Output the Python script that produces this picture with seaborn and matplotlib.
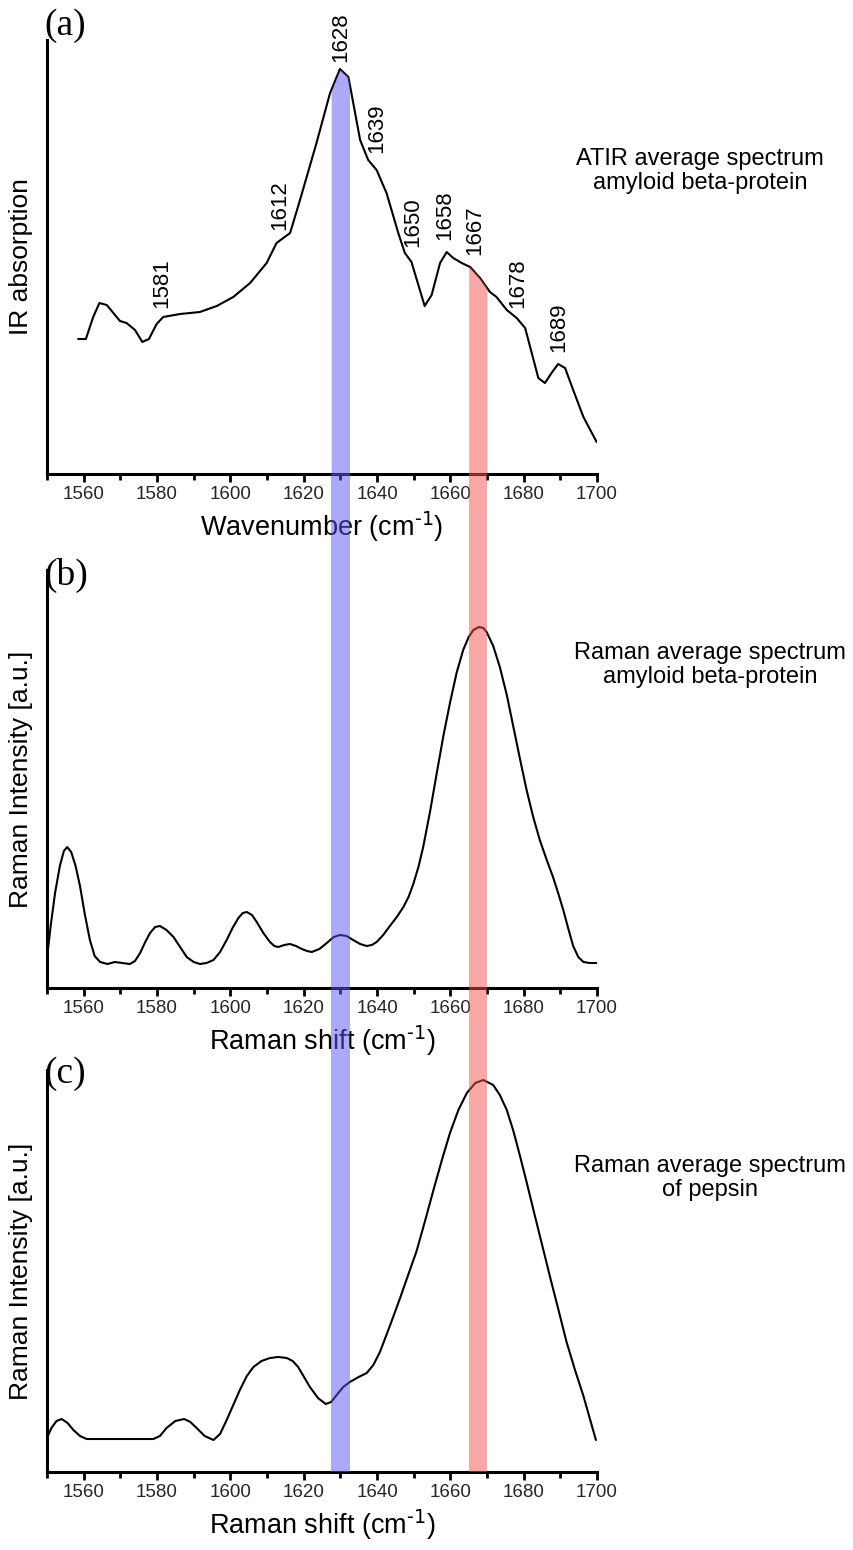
import numpy as np
import matplotlib
matplotlib.use("Agg")
import matplotlib.pyplot as plt
from matplotlib.ticker import MultipleLocator
import seaborn as sns

# ---------------- data ----------------
# (a) ATR-IR average spectrum of amyloid beta-protein
ir_wavenumber = [1558.5, 1560.6, 1562.6, 1564.3, 1566.3, 1569.9, 1571.7, 1574.0, 1576.0,
                 1577.8, 1579.9, 1581.7, 1586.3, 1591.7, 1596.3, 1600.8, 1605.4, 1609.9,
                 1612.6, 1616.3, 1619.0, 1623.5, 1627.2, 1629.9, 1632.2, 1635.4, 1637.6,
                 1639.9, 1642.6, 1645.8, 1647.6, 1649.4, 1653.0, 1654.9, 1657.2, 1659.0,
                 1660.8, 1663.1, 1665.4, 1668.1, 1670.8, 1672.6, 1675.4, 1678.1, 1680.4,
                 1682.2, 1684.0, 1685.8, 1687.6, 1689.4, 1691.3, 1693.5, 1696.3, 1699.9]
ir_absorption = [1.35, 1.35, 1.57, 1.71, 1.69, 1.53, 1.51, 1.44, 1.32,
                 1.35, 1.50, 1.57, 1.60, 1.62, 1.68, 1.77, 1.91, 2.11,
                 2.31, 2.41, 2.74, 3.31, 3.81, 4.05, 3.97, 3.34, 3.14,
                 3.04, 2.81, 2.41, 2.21, 2.12, 1.68, 1.79, 2.11, 2.22,
                 2.16, 2.11, 2.07, 1.96, 1.82, 1.77, 1.64, 1.56, 1.46,
                 1.21, 0.96, 0.91, 1.01, 1.10, 1.06, 0.84, 0.57, 0.32]
ir_peaks = [1581, 1612, 1628, 1639, 1650, 1658, 1667, 1678, 1689]

# (b) Raman average spectrum of amyloid beta-protein
raman_ab_shift = [1550.0, 1551.0, 1552.2, 1553.5, 1554.6, 1555.5, 1556.6, 1557.8, 1559.0,
                  1560.3, 1561.7, 1563.0, 1564.5, 1566.5, 1568.5, 1570.5, 1572.6, 1574.0,
                  1575.4, 1576.8, 1578.1, 1579.5, 1580.8, 1582.6, 1584.5, 1586.3, 1588.1,
                  1590.0, 1591.7, 1593.5, 1595.4, 1597.2, 1599.0, 1600.6, 1602.2, 1603.4,
                  1604.5, 1605.9, 1607.2, 1609.0, 1610.8, 1612.0, 1613.1, 1614.7, 1616.3,
                  1617.9, 1619.5, 1620.9, 1622.2, 1624.3, 1626.3, 1628.2, 1629.9, 1631.7,
                  1633.5, 1635.4, 1637.2, 1638.6, 1639.9, 1641.7, 1643.5, 1645.4, 1647.2,
                  1648.6, 1649.9, 1651.3, 1652.6, 1654.5, 1656.3, 1658.1, 1659.9, 1661.7,
                  1663.5, 1665.0, 1666.3, 1667.8, 1669.0, 1669.9, 1671.7, 1673.5, 1675.4,
                  1677.2, 1679.0, 1680.8, 1682.6, 1684.4, 1686.2, 1688.0, 1689.4, 1690.8,
                  1692.2, 1693.5, 1694.9, 1696.3, 1698.0, 1700.0]
raman_ab_intensity = [0.30, 0.62, 0.95, 1.22, 1.37, 1.41, 1.36, 1.22, 1.02,
                      0.74, 0.48, 0.32, 0.26, 0.24, 0.26, 0.25, 0.24, 0.27,
                      0.35, 0.46, 0.55, 0.61, 0.62, 0.58, 0.51, 0.41, 0.31,
                      0.26, 0.24, 0.25, 0.28, 0.36, 0.48, 0.60, 0.70, 0.75,
                      0.76, 0.73, 0.66, 0.55, 0.46, 0.42, 0.41, 0.43, 0.44,
                      0.42, 0.39, 0.37, 0.36, 0.39, 0.45, 0.51, 0.53, 0.52,
                      0.48, 0.44, 0.42, 0.43, 0.46, 0.53, 0.62, 0.71, 0.81,
                      0.91, 1.04, 1.21, 1.41, 1.77, 2.15, 2.52, 2.85, 3.15,
                      3.38, 3.51, 3.58, 3.61, 3.60, 3.56, 3.42, 3.21, 2.93,
                      2.61, 2.29, 1.98, 1.71, 1.48, 1.29, 1.11, 0.95, 0.78,
                      0.59, 0.42, 0.31, 0.26, 0.25, 0.25]

# (c) Raman average spectrum of pepsin
raman_pepsin_shift = [1550.0, 1551.2, 1552.6, 1554.0, 1555.6, 1557.2, 1559.0, 1560.8, 1570.0,
                      1579.0, 1580.8, 1582.6, 1585.0, 1587.4, 1589.1, 1590.8, 1593.0, 1595.4,
                      1597.2, 1599.0, 1600.8, 1602.6, 1604.5, 1606.3, 1608.5, 1610.8, 1613.1,
                      1615.4, 1617.0, 1618.5, 1620.1, 1621.7, 1623.9, 1626.0, 1627.5, 1629.0,
                      1630.8, 1632.6, 1635.0, 1637.2, 1639.0, 1640.8, 1643.5, 1646.3, 1648.5,
                      1650.8, 1653.1, 1655.4, 1657.7, 1659.9, 1662.2, 1664.5, 1666.8, 1669.0,
                      1671.7, 1673.5, 1675.4, 1677.2, 1679.0, 1680.8, 1682.6, 1684.9, 1687.2,
                      1689.5, 1691.7, 1694.0, 1696.3, 1698.0, 1699.7]
raman_pepsin_intensity = [0.34, 0.44, 0.51, 0.53, 0.49, 0.42, 0.36, 0.33, 0.33,
                          0.33, 0.36, 0.44, 0.51, 0.53, 0.50, 0.44, 0.36, 0.32,
                          0.38, 0.52, 0.67, 0.82, 0.96, 1.05, 1.11, 1.14, 1.15,
                          1.14, 1.11, 1.05, 0.95, 0.85, 0.74, 0.68, 0.70, 0.77,
                          0.85, 0.90, 0.95, 0.99, 1.07, 1.20, 1.46, 1.74, 1.97,
                          2.21, 2.51, 2.82, 3.12, 3.39, 3.62, 3.79, 3.89, 3.92,
                          3.87, 3.77, 3.62, 3.41, 3.16, 2.90, 2.63, 2.29, 1.95,
                          1.62, 1.30, 1.02, 0.76, 0.54, 0.32]

# highlighted bands (cm-1)
band_lo = [1627.5, 1665.0]
band_hi = [1632.5, 1670.0]
band_colors = ["#5b55f0", "#f34f4f"]

# ---------------- style ----------------
sns.set_theme(style="white")
plt.rcParams["font.family"] = ["Liberation Sans", "DejaVu Sans"]
plt.rcParams["mathtext.default"] = "regular"
plt.rcParams["axes.linewidth"] = 2.2

W, H = 854, 1550
fig = plt.figure(figsize=(W / 100, H / 100), dpi=100)

left_px, right_px = 47, 597
panels_px = [(40, 474), (570, 988), (1070, 1472)]   # (top, bottom) in pixels


def frac_rect(top, bottom):
    return [left_px / W, 1 - bottom / H, (right_px - left_px) / W, (bottom - top) / H]


axes = [fig.add_axes(frac_rect(t, b)) for t, b in panels_px]
ylims = [(0, 4.34), (0, 4.18), (0, 4.02)]
ylabels = ["IR absorption", "Raman Intensity [a.u.]", "Raman Intensity [a.u.]"]
xlabels = [r"Wavenumber (cm$^{\text{-1}}$)", r"Raman shift (cm$^{\text{-1}}$)",
           r"Raman shift (cm$^{\text{-1}}$)"]
series = [(ir_wavenumber, ir_absorption),
          (raman_ab_shift, raman_ab_intensity),
          (raman_pepsin_shift, raman_pepsin_intensity)]

for ax, (xs, ys), yl, xl, lim in zip(axes, series, ylabels, xlabels, ylims):
    sns.lineplot(x=xs, y=ys, ax=ax, color="black", linewidth=1.5,
                 sort=False, estimator=None, zorder=2)
    ax.set_xlim(1550, 1700)
    ax.set_ylim(*lim)
    ax.set_facecolor("none")
    for s in ("top", "right"):
        ax.spines[s].set_visible(False)
    for s in ("left", "bottom"):
        ax.spines[s].set_color("black")
    ax.set_yticks([])
    ax.xaxis.set_minor_locator(MultipleLocator(10))
    ax.set_xticks(np.arange(1560, 1701, 20))
    ax.tick_params(axis="x", which="major", direction="out", length=5.5, width=2,
                   color="black", labelsize=13.5, pad=3, bottom=True)
    ax.tick_params(axis="x", which="minor", direction="out", length=4, width=2,
                   color="black", bottom=True)
    ax.set_ylabel(yl, fontsize=19, color="black")
    ax.yaxis.set_label_coords(-0.026, 0.5)
    ax.set_xlabel(xl, fontsize=19.5, color="black", labelpad=5)

# peak labels on the IR spectrum
label_x = [1581.4, 1613.5, 1630.2, 1640.0, 1649.8, 1658.5, 1666.7, 1678.4, 1689.6]
label_y = [1.66, 2.44, 4.12, 3.21, 2.27, 2.34, 2.19, 1.66, 1.22]
for p, lx, ly in zip(ir_peaks, label_x, label_y):
    axes[0].text(lx, ly, str(p), rotation=90, ha="center", va="bottom",
                 fontsize=16, color="black")

# bands in panel (a): filled from the axis up to the spectrum
ir_x = np.asarray(ir_wavenumber)
ir_y = np.asarray(ir_absorption)
for lo, hi, c in zip(band_lo, band_hi, band_colors):
    xb = np.linspace(lo, hi, 40)
    yb = np.interp(xb, ir_x, ir_y)
    axes[0].fill_between(xb, 0, yb, color=c, alpha=0.5, lw=0, zorder=3)

# bands running through panels (b) and (c)
top_ov, bot_ov = panels_px[0][1], panels_px[2][1]
ov = fig.add_axes(frac_rect(top_ov, bot_ov), zorder=10)
ov.set_xlim(1550, 1700)
ov.set_ylim(0, 1)
ov.axis("off")
for lo, hi, c in zip(band_lo, band_hi, band_colors):
    ov.axvspan(lo, hi, ymin=0.0, ymax=1.0, color=c, alpha=0.5, lw=0)

# panel letters
letter_y = [26, 575, 1074]
for ypx, letter in zip(letter_y, ["(a)", "(b)", "(c)"]):
    fig.text(44 / W, 1 - ypx / H, letter, ha="left", va="center",
             fontsize=27, family=["Liberation Serif", "DejaVu Serif"], color="black")

# spectrum descriptions
descriptions = [("ATIR average spectrum\namyloid beta-protein", 700, 171),
                ("Raman average spectrum\namyloid beta-protein", 710, 665),
                ("Raman average spectrum\nof pepsin", 710, 1178)]
for txt, xpx, ypx in descriptions:
    fig.text(xpx / W, 1 - ypx / H, txt, ha="center", va="center", fontsize=17,
             linespacing=1.15, color="black")

fig.savefig("out.png", dpi=100, facecolor="white")
